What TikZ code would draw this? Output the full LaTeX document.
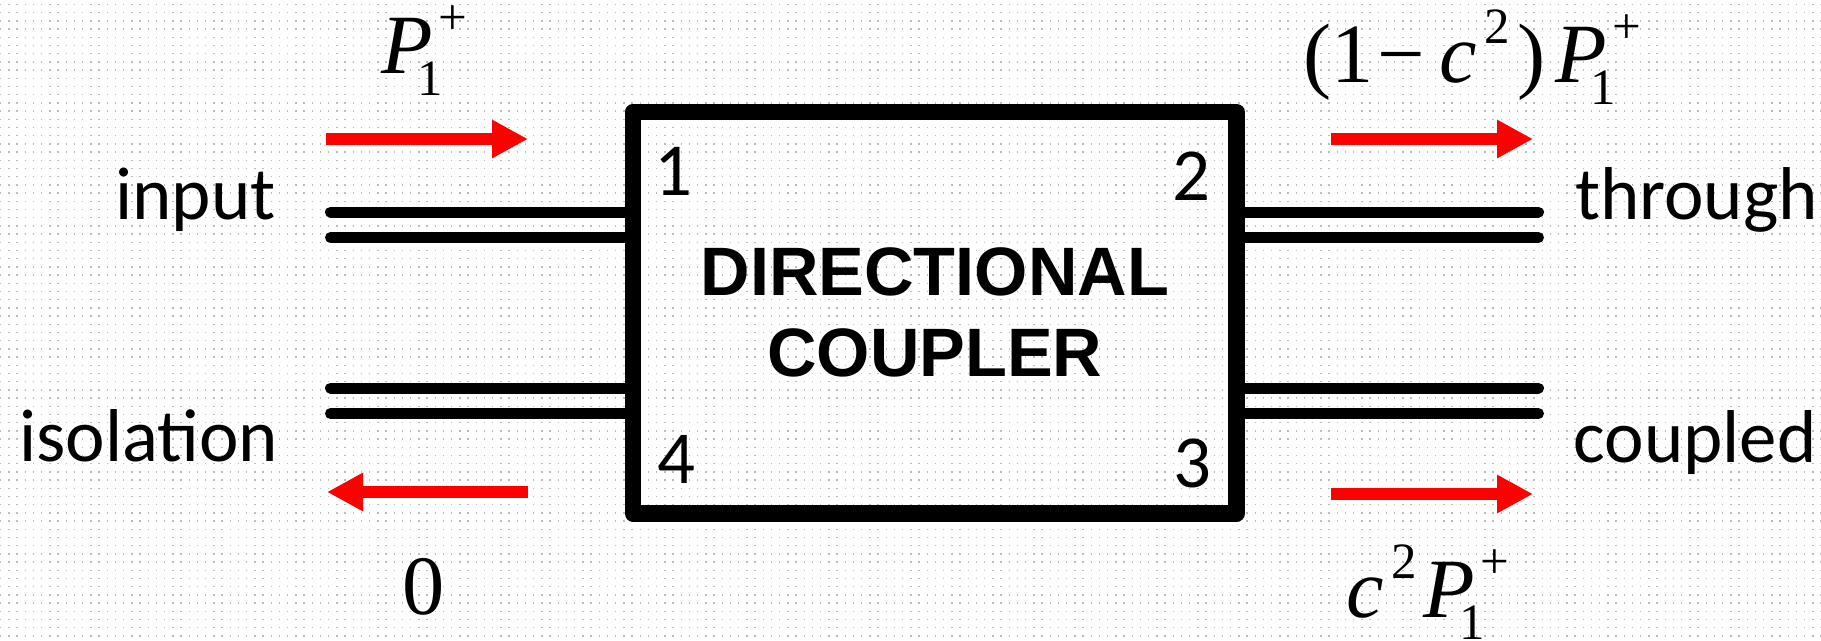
\documentclass[tikz,border=0pt]{standalone}
\usepackage{fontspec}
\setmainfont{Carlito}
\newfontfamily\arlfont{Liberation Sans}
\newfontfamily\tmsfont{Liberation Serif}
\usetikzlibrary{arrows.meta}
\newcommand{\supsz}{\fontsize{14.5}{15}\selectfont}
\newcommand{\Pone}{{\tmsfont\itshape P}\rlap{\kern1.5pt\raisebox{11pt}{\tmsfont\supsz +}}\kern-4.6pt\raisebox{-6.5pt}{\tmsfont\supsz 1}}

\begin{document}
\begin{tikzpicture}[
  wg/.style={line width=0.11cm, line cap=round},
  pw/.style={-{Triangle[length=0.36cm,width=0.36cm]}, rd, line width=0.12cm},
  lbl/.style={inner sep=0pt, font=\fontsize{21.3}{25}\selectfont},
  mth/.style={inner sep=0pt, font=\tmsfont\fontsize{24}{28}\selectfont},
  coupler/.style={draw, line width=0.165cm, line join=round, inner sep=0pt,
    minimum width=6.035cm, minimum height=4.015cm, align=center,
    font=\arlfont\bfseries\fontsize{19.5}{23}\selectfont}]
\definecolor{rd}{RGB}{255,0,0}
\definecolor{dotg}{RGB}{188,188,188}
\useasboundingbox (0,0) rectangle (18.21,6.40);
\fill[white] (0,0) rectangle (18.21,6.40);
%% --- dotted grid of the slide ---
\foreach \gy in {0.041,0.123,...,6.40}
  \draw[dotg, line width=0.014cm, dash pattern=on 0.014cm off 0.068cm] (0,\gy) -- (18.21,\gy);
%% --- coupler block and its ports ---
\node[coupler] (dc) at (9.3475,3.2725) {DIRECTIONAL\\COUPLER};
\node[lbl, anchor=base west] (n1) at (6.54,4.45) {1};
\node[lbl, anchor=base east] (n2) at (12.115,4.40) {2};
\node[lbl, anchor=base east] (n3) at (12.12,1.53) {3};
\node[lbl, anchor=base west] (n4) at (6.57,1.57) {4};
\coordinate (w1a) at (3.305,4.28);
\coordinate (w1b) at (3.305,4.025);
\coordinate (w4a) at (3.305,2.52);
\coordinate (w4b) at (3.305,2.265);
\coordinate (w2a) at (15.385,4.28);
\coordinate (w2b) at (15.385,4.025);
\coordinate (w3a) at (15.385,2.52);
\coordinate (w3b) at (15.385,2.265);
\foreach \w in {w1a,w1b,w4a,w4b}
  \draw[wg] (\w) -- (\w -| dc.west);
\foreach \w in {w2a,w2b,w3a,w3b}
  \draw[wg] (\w -| dc.east) -- (\w);
%% --- port names ---
\node[lbl, anchor=base east] (tin) at (2.765,4.21) {input};
\node[lbl, anchor=base east] (tiso) at (2.79,1.79) {isolation};
\node[lbl, anchor=base west] (tthr) at (15.745,4.21) {through};
\node[lbl, anchor=base west] (tcpl) at (15.73,1.78) {coupled};
%% --- power flow ---
\coordinate (a1s) at (3.26,5.01);  \coordinate (a1e) at (5.28,5.01);
\coordinate (a4s) at (5.28,1.48);  \coordinate (a4e) at (3.27,1.48);
\coordinate (a2s) at (13.31,5.01); \coordinate (a2e) at (15.33,5.01);
\coordinate (a3s) at (13.31,1.46); \coordinate (a3e) at (15.33,1.46);
\draw[pw] (a1s) -- (a1e);
\draw[pw] (a4s) -- (a4e);
\draw[pw] (a2s) -- (a2e);
\draw[pw] (a3s) -- (a3e);
\node[mth, anchor=base west] (pin) at (3.81,5.67) {\Pone};
\node[mth, anchor=base west] (piso) at (4.02,0.26) {\tmsfont 0};
\node[mth, anchor=base west] (pthr) at (13.03,5.58)
  {\tmsfont(1\kern1pt−\kern4pt{\itshape c}\kern2.4pt\raisebox{11pt}{\supsz 2}\kern2pt)\kern2.8pt\Pone};
\node[mth, anchor=base west] (pcpl) at (13.46,0.23)
  {\tmsfont{\itshape c}\kern2pt\raisebox{11pt}{\supsz 2}\kern2pt\Pone};
\end{tikzpicture}
\end{document}
